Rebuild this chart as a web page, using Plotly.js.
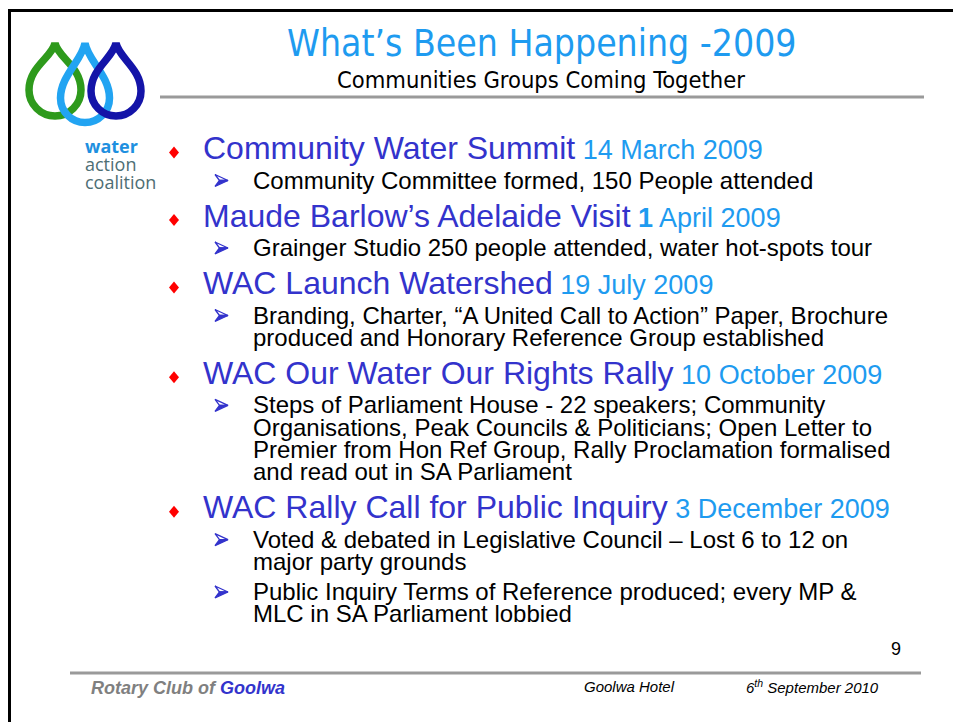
<!DOCTYPE html>
<html>
<head>
<meta charset="utf-8">
<script src="https://cdn.plot.ly/plotly-3.0.1.min.js"></script>
<style>html,body{margin:0;padding:0;background:#fff;}#chart{width:953px;height:722px;}</style>
</head>
<body>
<div id="chart"></div>
<script>
// ---- slide content ----
const slideTitle = "What’s Been Happening -2009";
const slideSubtitle = "Communities Groups Coming Together";
const logoWords = ["water", "action", "coalition"];
const headings = [
  "Community Water Summit",
  "Maude Barlow’s Adelaide Visit",
  "WAC Launch Watershed",
  "WAC Our Water Our Rights Rally",
  "WAC Rally Call for Public Inquiry"
];
const dateDays = ["14", "1", "19", "10", "3"];
const dateRest = ["March 2009", "April 2009", "July 2009", "October 2009", "December 2009"];
const boldDay = [false, true, false, false, false];
const details = [
  [["Community Committee formed, 150 People attended"]],
  [["Grainger Studio 250 people attended, water hot-spots tour"]],
  [["Branding, Charter, “A United Call to Action” Paper, Brochure",
    "produced and Honorary Reference Group established"]],
  [["Steps of Parliament House - 22 speakers; Community",
    "Organisations, Peak Councils &amp; Politicians; Open Letter to",
    "Premier from Hon Ref Group, Rally Proclamation formalised",
    "and read out in SA Parliament"]],
  [["Voted &amp; debated in Legislative Council – Lost 6 to 12 on",
    "major party grounds"],
   ["Public Inquiry Terms of Reference produced; every MP &amp;",
    "MLC in SA Parliament lobbied"]]
];
const pageNumber = "9";
const footerLeftA = "Rotary Club of ";
const footerLeftB = "Goolwa";
const footerVenue = "Goolwa Hotel";
const footerDate = "6<sup>th</sup> September 2010";

// ---- styles ----
const HEAD_BLUE = "#3333CC";
const DATE_BLUE = "#1E9BF0";
const SANS = "Liberation Sans, Arial, sans-serif";
const NARROW = "Liberation Sans Narrow, Arial Narrow, DejaVu Sans Condensed, sans-serif";

const annotations = [];
const shapes = [];

function txt(x, y, text, size, color, family, opts) {
  annotations.push(Object.assign({
    x: x, y: y, xref: "x", yref: "y", text: text, showarrow: false,
    xanchor: "left", yanchor: "middle", borderpad: 0,
    font: {size: size, color: color, family: family}
  }, opts || {}));
}
function path(p, fill, lineColor, lineWidth) {
  shapes.push({type: "path", xref: "x", yref: "y", path: p, fillcolor: fill,
    line: {color: lineColor || fill, width: lineWidth || 0}});
}

// frame
shapes.push({type: "rect", xref: "x", yref: "y", x0: 8, x1: 953, y0: 9, y1: 12, fillcolor: "#000", line: {width: 0}});
shapes.push({type: "rect", xref: "x", yref: "y", x0: 8, x1: 11, y0: 9, y1: 722, fillcolor: "#000", line: {width: 0}});
// rules
shapes.push({type: "line", xref: "x", yref: "y", x0: 160, x1: 924, y0: 97, y1: 97, line: {color: "#9a9a9a", width: 3}});
shapes.push({type: "line", xref: "x", yref: "y", x0: 70, x1: 921, y0: 673, y1: 673, line: {color: "#9a9a9a", width: 3}});

// logo droplets
function drop(cx, cy, r, ty, color) {
  const k = 0.552;
  const p = `M${cx},${ty} C${cx - 0.1 * r},${ty + 0.3 * (cy - ty)} ${cx - r},${cy - 0.9 * r} ${cx - r},${cy} ` +
    `C${cx - r},${cy + k * r} ${cx - k * r},${cy + r} ${cx},${cy + r} ` +
    `C${cx + k * r},${cy + r} ${cx + r},${cy + k * r} ${cx + r},${cy} ` +
    `C${cx + r},${cy - 0.9 * r} ${cx + 0.1 * r},${ty + 0.3 * (cy - ty)} ${cx},${ty} Z`;
  shapes.push({type: "path", xref: "x", yref: "y", path: p, line: {color: color, width: 7.5}, fillcolor: "rgba(0,0,0,0)"});
}
drop(55, 90, 26, 43, "#2E9A1C");
drop(85, 98, 24.5, 43, "#22A4F2");
drop(116, 91, 25, 43, "#1414A8");

txt(84, 146, "<b>" + logoWords[0] + "</b>", 18, "#1E90E0", "Open Sans, sans-serif");
txt(84, 164, logoWords[1], 18, "#4E6E74", "Open Sans, sans-serif");
txt(84, 182, logoWords[2], 18, "#4E6E74", "Open Sans, sans-serif");

// title
txt(542, 43, slideTitle, 37, DATE_BLUE, NARROW, {xanchor: "center"});
txt(541, 80, slideSubtitle, 23.5, "#000", NARROW, {xanchor: "center"});

// bullets
const HEAD_TO_SUB = 32, WRAP = 22.3, SUB_TO_SUB = 30, SUB_TO_HEAD = 35.5;
let y = 148;
const headY = [];
headings.forEach((h, i) => {
  headY.push(y);
  const day = boldDay[i] ? "<b>" + dateDays[i] + "</b>" : dateDays[i];
  const t = `<span style="font-size:32px">${h}</span><span style="font-size:27px;fill:${DATE_BLUE}"> ${day} ${dateRest[i]}</span>`;
  txt(202, y, t, 32, HEAD_BLUE, SANS);
  // red diamond bullet
  const dy = y + 4.5;
  path(`M174,${dy - 6} L179,${dy} L174,${dy + 6} L169,${dy} Z`, "#FF0000");
  y += HEAD_TO_SUB;
  details[i].forEach((lines, j) => {
    if (j > 0) y += SUB_TO_SUB;
    // 3D arrowhead sub-bullet
    const ay = y + 0.5;
    path(`M228,${ay} L215,${ay - 6} L219.5,${ay} Z`, "#FFFFFF", HEAD_BLUE, 1.3);
    path(`M228,${ay} L219.5,${ay} L215,${ay + 6} Z`, HEAD_BLUE, HEAD_BLUE, 1.3);
    lines.forEach((ln, k) => {
      if (k > 0) y += WRAP;
      txt(252, y, ln, 24, "#000", SANS);
    });
  });
  y += SUB_TO_HEAD;
});

// page number & footer
txt(896, 648.5, pageNumber, 18, "#000", SANS, {xanchor: "center"});
txt(90, 688, "<b><i>" + footerLeftA + "<span style='fill:" + HEAD_BLUE + "'>" + footerLeftB + "</span></i></b>", 18, "#808080", SANS);
txt(583, 686, "<i>" + footerVenue + "</i>", 15, "#000", SANS);
txt(745, 686, "<i>" + footerDate + "</i>", 15, "#000", SANS);

const layout = {
  width: 953, height: 722,
  margin: {l: 0, r: 0, t: 0, b: 0, pad: 0},
  paper_bgcolor: "#fff", plot_bgcolor: "#fff",
  showlegend: false,
  xaxis: {range: [0, 953], visible: false, fixedrange: true},
  yaxis: {range: [722, 0], visible: false, fixedrange: true},
  shapes: shapes,
  annotations: annotations
};
const data = [{x: headY.map(() => 174), y: headY, mode: "markers", marker: {opacity: 0}, hoverinfo: "skip", type: "scatter"}];
Plotly.newPlot("chart", data, layout, {staticPlot: true, displayModeBar: false});
</script>
</body>
</html>
